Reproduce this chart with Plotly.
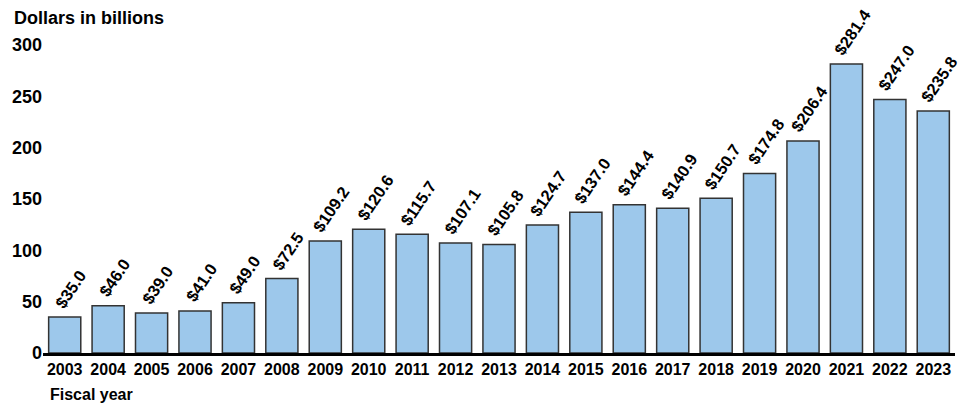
import plotly.graph_objects as go

years = list(range(2003, 2024))
values = [35.0, 46.0, 39.0, 41.0, 49.0, 72.5, 109.2, 120.6, 115.7, 107.1, 105.8,
          124.7, 137.0, 144.4, 140.9, 150.7, 174.8, 206.4, 281.4, 247.0, 235.8]
labels = [f"${v:.1f}" for v in values]
y_ticks = [0, 50, 100, 150, 200, 250, 300]

FONT = "Liberation Sans, Arial, sans-serif"

fig = go.Figure()
fig.add_trace(go.Bar(
    x=years, y=values,
    marker=dict(color="#9DC8EB", line=dict(color="#333333", width=1.5)),
    width=0.74,
    hoverinfo="skip",
))

for x, v, t in zip(years, values, labels):
    fig.add_annotation(
        x=x, y=v, text=t, showarrow=False, textangle=-56,
        xanchor="center", yanchor="bottom", xshift=6, yshift=3,
        font=dict(family=FONT, size=16.5, color="black", weight="bold"),
    )

fig.add_annotation(xref="paper", yref="paper", x=0, y=1, xanchor="left", yanchor="middle",
                   xshift=-31, yshift=27,
                   text="Dollars in billions", showarrow=False,
                   font=dict(family=FONT, size=18, color="black", weight="bold"))
fig.add_annotation(xref="paper", yref="paper", x=0, y=0, xanchor="left", yanchor="middle",
                   xshift=5, yshift=-41,
                   text="Fiscal year", showarrow=False,
                   font=dict(family=FONT, size=16, color="black", weight="bold"))

# page body adds an 8px margin, so the figure is 8px smaller and shifted
fig.update_layout(
    width=964, height=397,
    margin=dict(l=35, r=17, t=37, b=52, autoexpand=False),
    plot_bgcolor="white", paper_bgcolor="white",
    showlegend=False,
    font=dict(family=FONT, size=16, color="black"),
)
fig.update_xaxes(
    range=[2002.5, 2023.5], tickvals=years, automargin=False,
    showline=True, linecolor="black", linewidth=3,
    showgrid=False, zeroline=False, ticks="",
    tickfont=dict(family=FONT, size=16, weight="bold"),
)
fig.update_yaxes(
    range=[0, 300], tickvals=y_ticks, automargin=False,
    showgrid=False, zeroline=False, showline=False,
    ticks="", tickfont=dict(family=FONT, size=18, weight="bold"),
)

fig.write_html("out.html")
